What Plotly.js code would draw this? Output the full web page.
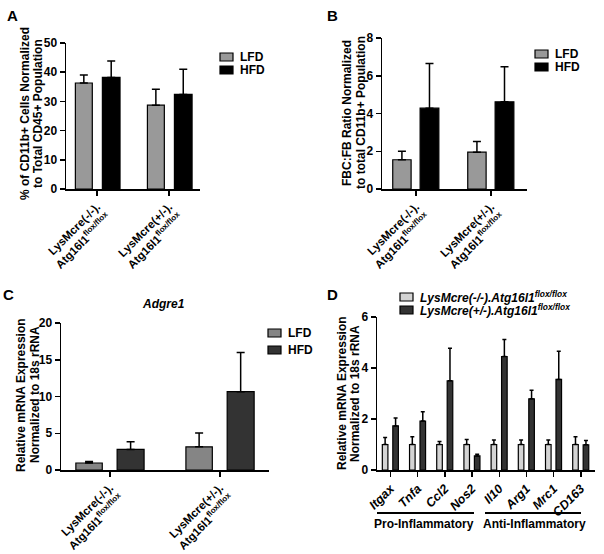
<!DOCTYPE html>
<html>
<head>
<meta charset="utf-8">
<script src="https://cdn.plot.ly/plotly-3.0.1.min.js"></script>
<style>html,body{margin:0;padding:0;background:#fff}#chart{width:604px;height:554px}</style>
</head>
<body>
<div id="chart"></div>
<script>
// ---------------- DATA ----------------
const genotypes = ['LysMcre(-/-)', 'LysMcre(+/-)'];
const genotypeLabels = ['LysMcre(-/-).<br>Atg16l1<sup>flox/flox</sup>', 'LysMcre(+/-).<br>Atg16l1<sup>flox/flox</sup>'];
const dietNames = ['LFD', 'HFD'];

// Panel A: % CD11b+ cells normalized to CD45+
const aLFD = [36.3, 28.7];
const aLFDerr = [2.7, 5.5];
const aHFD = [38.2, 32.4];
const aHFDerr = [5.6, 8.6];

// Panel B: FBC:FB ratio normalized to CD11b+
const bLFD = [1.55, 1.95];
const bLFDerr = [0.45, 0.57];
const bHFD = [4.28, 4.62];
const bHFDerr = [2.37, 1.86];

// Panel C: Adgre1 relative mRNA
const cLFD = [0.95, 3.15];
const cLFDerr = [0.2, 1.9];
const cHFD = [2.8, 10.65];
const cHFDerr = [1.05, 5.35];

// Panel D: gene expression
const genes = ['Itgax', 'Tnfa', 'Ccl2', 'Nos2', 'Il10', 'Arg1', 'Mrc1', 'CD163'];
const dNeg = [1, 1, 1, 1, 1, 1, 1, 1];
const dNegErr = [0.27, 0.3, 0.12, 0.2, 0.18, 0.18, 0.18, 0.3];
const dPos = [1.73, 1.92, 3.5, 0.55, 4.45, 2.79, 3.55, 0.99];
const dPosErr = [0.31, 0.36, 1.27, 0.07, 0.67, 0.34, 1.11, 0.17];
const dSeries = ['LysMcre(-/-).Atg16l1<sup>flox/flox</sup>', 'LysMcre(+/-).Atg16l1<sup>flox/flox</sup>'];
const groupNames = ['Pro-Inflammatory', 'Anti-Inflammatory'];

// y-axis titles, one entry per line
const yTitles = [
  ['% of CD11b+ Cells Normalized', 'to Total CD45+ Population'],
  ['FBC:FB Ratio Normalized', 'to total CD11b+ Population'],
  ['Relative mRNA Expression', 'Normalized to 18s rRNA'],
  ['Relative mRNA Expression', 'Normalized to 18s rRNA']
];

// ---------------- LAYOUT HELPERS ----------------
const W = 604, H = 554;
const px = v => v / W;
const py = v => 1 - v / H;
const FONT = 'Liberation Sans, Arial, sans-serif';

function bar(x, y, err, name, color, xa, ya, offset, width, capw) {
  return {
    type: 'bar', x: x, y: y, name: name, xaxis: xa, yaxis: ya,
    offset: offset, width: width, showlegend: false,
    marker: {color: color, line: {color: '#000', width: 1.2}},
    error_y: {type: 'data', symmetric: false, array: err, arrayminus: err.map(() => 0),
              color: '#000', thickness: 1.5, width: capw},
    hoverinfo: 'y+name'
  };
}

const traces = [
  bar(genotypes, aLFD, aLFDerr, dietNames[0], '#999999', 'x', 'y', -0.3, 0.235, 4),
  bar(genotypes, aHFD, aHFDerr, dietNames[1], '#000000', 'x', 'y', 0.075, 0.245, 4),
  bar(genotypes, bLFD, bLFDerr, dietNames[0], '#999999', 'x2', 'y2', -0.31, 0.245, 4),
  bar(genotypes, bHFD, bHFDerr, dietNames[1], '#000000', 'x2', 'y2', 0.055, 0.25, 4),
  bar(genotypes, cLFD, cLFDerr, dietNames[0], '#858585', 'x3', 'y3', -0.31, 0.24, 4),
  bar(genotypes, cHFD, cHFDerr, dietNames[1], '#333333', 'x3', 'y3', 0.065, 0.245, 4),
  bar(genes, dNeg, dNegErr, dSeries[0], '#d4d4d4', 'x4', 'y4', -0.3, 0.205, 2),
  bar(genes, dPos, dPosErr, dSeries[1], '#333333', 'x4', 'y4', 0.085, 0.205, 2)
];

function yax(dom, range, dtick, anchor) {
  return {
    domain: dom, range: range, dtick: dtick, tick0: 0, anchor: anchor,
    showgrid: false, zeroline: false, showline: true, linecolor: '#000', linewidth: 1.5,
    ticks: 'outside', ticklen: 5, tickwidth: 1.5, tickcolor: '#000',
    tickfont: {family: FONT, size: 12, color: '#000', weight: 'bold'},
    fixedrange: true
  };
}
function xax(dom, range, anchor, vals, texts, size) {
  return {
    domain: dom, range: range, anchor: anchor, type: 'category',
    tickvals: vals, ticktext: texts, tickangle: -45,
    showgrid: false, zeroline: false, showline: true, linecolor: '#000', linewidth: 1.5,
    ticks: 'outside', ticklen: 5, tickwidth: 1.5, tickcolor: '#000',
    tickfont: {family: FONT, size: size, color: '#000', weight: 'bold'},
    fixedrange: true
  };
}

const geneTicks = genes.map(g => '<i>' + g + '</i>');

const layout = {
  width: W, height: H,
  margin: {l: 0, r: 0, t: 0, b: 0},
  paper_bgcolor: '#fff', plot_bgcolor: 'rgba(0,0,0,0)',
  barmode: 'overlay',
  showlegend: false,
  font: {family: FONT, color: '#000'},
  xaxis: xax([px(66), px(200)], [-0.43, 1.43], 'y', genotypes, genotypeLabels, 11.5),
  yaxis: yax([py(189), py(43)], [0, 50], 10, 'x'),
  xaxis2: xax([px(382), px(527)], [-0.453, 1.48], 'y2', genotypes, genotypeLabels, 11.5),
  yaxis2: yax([py(189), py(38)], [0, 8], 2, 'x2'),
  xaxis3: xax([px(61), px(269)], [-0.445, 1.445], 'y3', genotypes, genotypeLabels, 11.5),
  yaxis3: yax([py(470), py(323)], [0, 20], 5, 'x3'),
  xaxis4: xax([px(377), px(595)], [-0.496, 7.52], 'y4', genes, geneTicks, 12.5),
  yaxis4: yax([py(470), py(317)], [0, 6], 2, 'x4'),
  shapes: [],
  annotations: []
};

function ann(x, y, text, size, opts) {
  return Object.assign({
    xref: 'paper', yref: 'paper', x: px(x), y: py(y), text: text, showarrow: false,
    font: {family: FONT, size: size, color: '#000', weight: 'bold'},
    xanchor: 'center', yanchor: 'middle'
  }, opts || {});
}
function rect(x0, y0, x1, y1, color) {
  return {type: 'rect', xref: 'paper', yref: 'paper', x0: px(x0), x1: px(x1), y0: py(y1), y1: py(y0),
          fillcolor: color, line: {color: '#000', width: 1.2}};
}

// y-axis titles (rotated, one annotation per line)
[[25, 38, 114], [347, 361, 113], [21, 35, 395], [342, 355, 393]].forEach((p, i) => {
  layout.annotations.push(ann(p[0], p[2], yTitles[i][0], 12, {textangle: -90}));
  layout.annotations.push(ann(p[1], p[2], yTitles[i][1], 12, {textangle: -90}));
});

// panel letters
layout.annotations.push(ann(12, 15, 'A', 15));
layout.annotations.push(ann(332, 16, 'B', 15));
layout.annotations.push(ann(8, 294, 'C', 15));
layout.annotations.push(ann(332, 294, 'D', 15));
layout.annotations.push(ann(163, 304, '<i>Adgre1</i>', 12));

// legends (swatches + labels)
function legend2(x0, ys, colors, labels, size) {
  ys.forEach((yc, i) => {
    layout.shapes.push(rect(x0, yc - 4, x0 + 13, yc + 4, colors[i]));
    layout.annotations.push(ann(x0 + 18, yc, labels[i], size, {xanchor: 'left'}));
  });
}
legend2(220, [57, 70], ['#999999', '#000000'], dietNames, 12);
legend2(535, [54, 67], ['#999999', '#000000'], dietNames, 12);
legend2(268, [333, 350], ['#858585', '#333333'], dietNames, 12);
legend2(400, [297, 310], ['#d4d4d4', '#333333'], dSeries.map(s => '<i>' + s + '</i>'), 12);

// D group brackets
layout.shapes.push({type: 'line', xref: 'paper', yref: 'paper', x0: px(377), x1: px(474), y0: py(513), y1: py(513), line: {color: '#000', width: 2}});
layout.shapes.push({type: 'line', xref: 'paper', yref: 'paper', x0: px(485), x1: px(581), y0: py(513), y1: py(513), line: {color: '#000', width: 2}});
layout.annotations.push(ann(424, 524, groupNames[0], 12));
layout.annotations.push(ann(534, 524, groupNames[1], 12));

Plotly.newPlot('chart', traces, layout, {staticPlot: true, displayModeBar: false});
</script>
</body>
</html>
